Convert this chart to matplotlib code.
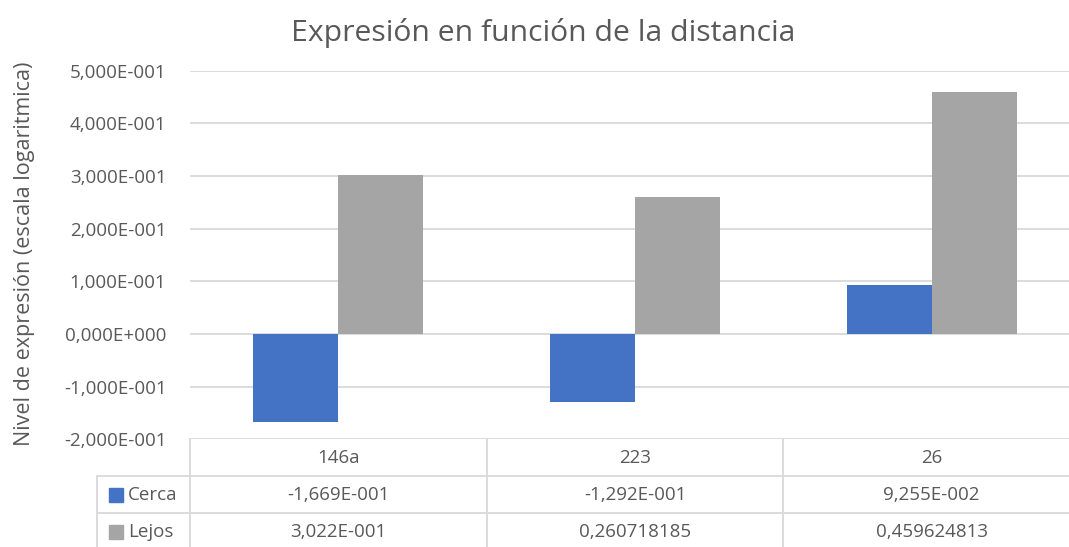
import numpy as np
import matplotlib
matplotlib.use('Agg')
import matplotlib.pyplot as plt
from matplotlib.ticker import MultipleLocator, FuncFormatter
from matplotlib.patches import Rectangle
from matplotlib.transforms import blended_transform_factory

categories = ['146a', '223', '26']
cerca = [-0.1669, -0.1292, 0.09255]
lejos = [0.3022, 0.260718185, 0.459624813]
cerca_labels = ['-1,669E-001', '-1,292E-001', '9,255E-002']
lejos_labels = ['3,022E-001', '0,260718185', '0,459624813']
series_names = ['Cerca', 'Lejos']

BLUE = '#4472C4'
GRAY = '#A5A5A5'
TEXT = '#595959'
GRID = '#D9D9D9'

plt.rcParams['font.family'] = ['Open Sans', 'DejaVu Sans']

W, H = 1069, 547
fig = plt.figure(figsize=(W / 100, H / 100), dpi=100)
ax = fig.add_axes([190 / W, 1 - 439.3 / H, 890 / W, 368.6 / H])


def excel_sci(v, pos=None):
    # Excel style 0,000E+000
    if v == 0:
        return '0,000E+000'
    exp = int(np.floor(np.log10(abs(v))))
    mant = v / 10 ** exp
    sign = '-' if exp < 0 else '+'
    return f'{mant:.3f}'.replace('.', ',') + f'E{sign}{abs(exp):03d}'


x = np.arange(len(categories))
w = 0.286
ax.bar(x - w / 2, cerca, w, color=BLUE, zorder=3)
ax.bar(x + w / 2, lejos, w, color=GRAY, zorder=3)

ax.set_xlim(-0.5, 2.5)
ax.set_ylim(-0.2, 0.5)
ax.yaxis.set_major_locator(MultipleLocator(0.1))
ax.yaxis.set_major_formatter(FuncFormatter(lambda v, p: excel_sci(round(v, 6))))
ax.grid(axis='y', color=GRID, linewidth=1.3, zorder=0)
ax.tick_params(axis='y', length=0, labelsize=13.5, labelcolor=TEXT, pad=17)
ax.set_xticks([])
for s in ax.spines.values():
    s.set_visible(False)

fig.text(25 / W, 1 - 254 / H, 'Nivel de expresión (escala logaritmica)', rotation=90,
         ha='center', va='center', fontsize=15.5, color=TEXT)
fig.text(543 / W, 1 - 33 / H, 'Expresión en función de la distancia',
         ha='center', va='center', fontsize=21.7, color=TEXT)

# data table under the plot
tr = blended_transform_factory(ax.transData, ax.transAxes)
row_h = 37 / 368.6
cat_px = 890 / 3
leg_x = -0.5 + (97 - 190) / cat_px
line_kw = dict(color=GRID, linewidth=1.3, transform=tr, clip_on=False)

for xv in [-0.5, 0.5, 1.5, 2.5]:
    ax.plot([xv, xv], [0, -3 * row_h], **line_kw)
ax.plot([leg_x, leg_x], [-row_h, -3 * row_h], **line_kw)
for k in [1, 2, 3]:
    ax.plot([leg_x, 2.5], [-k * row_h, -k * row_h], **line_kw)

for i, cat in enumerate(categories):
    ax.text(x[i], -0.5 * row_h, cat, transform=tr, ha='center', va='center',
            fontsize=13.5, color=TEXT)
    ax.text(x[i], -1.5 * row_h, cerca_labels[i], transform=tr, ha='center', va='center',
            fontsize=13.5, color=TEXT)
    ax.text(x[i], -2.5 * row_h, lejos_labels[i], transform=tr, ha='center', va='center',
            fontsize=13.5, color=TEXT)

for j, (name, col) in enumerate(zip(series_names, [BLUE, GRAY])):
    yc = -(1.5 + j) * row_h
    sq = 14 / 368.6
    ax.add_patch(Rectangle((leg_x + 12 / cat_px, yc - sq / 2), 14 / cat_px, sq,
                           transform=tr, color=col, clip_on=False))
    ax.text(leg_x + 31 / cat_px, yc, name, transform=tr, ha='left', va='center',
            fontsize=13.5, color=TEXT)

fig.savefig('out.png', dpi=100)
